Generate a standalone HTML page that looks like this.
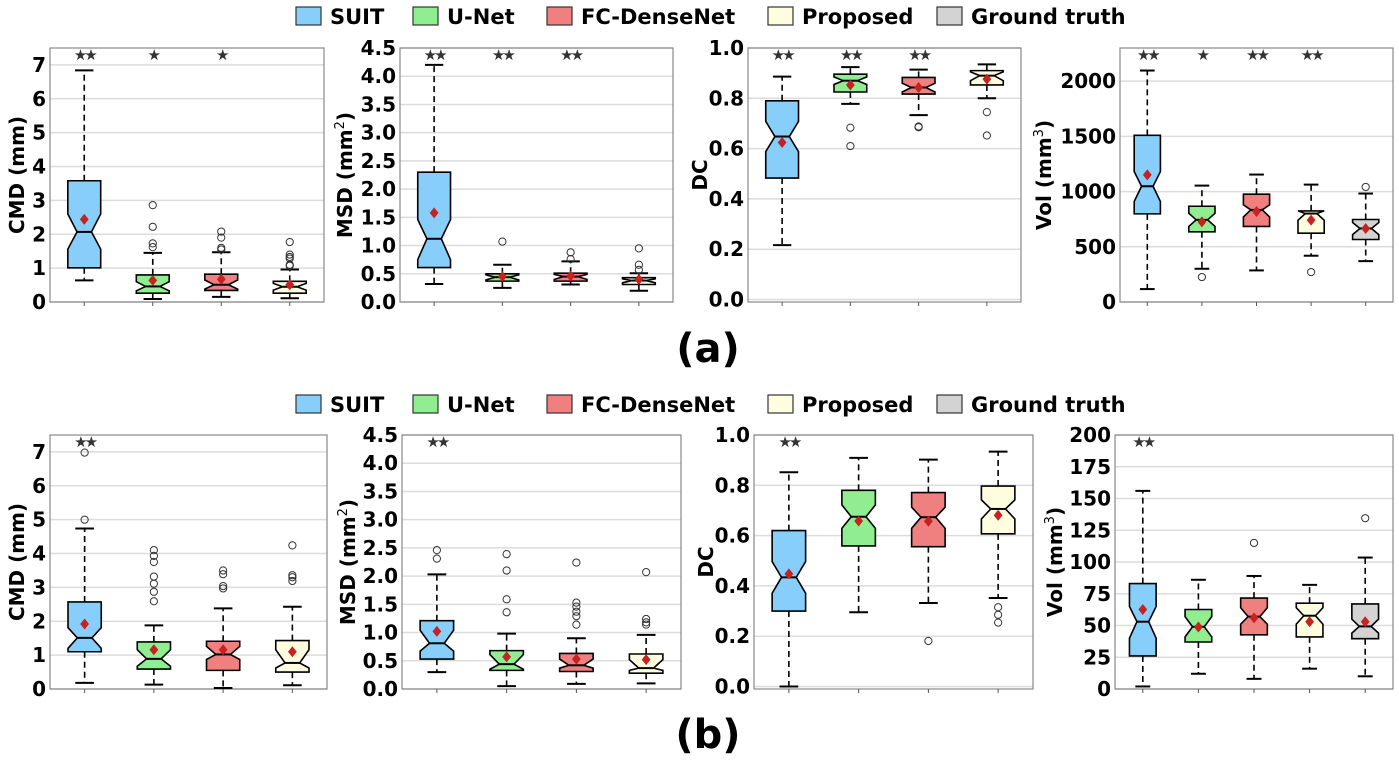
<!DOCTYPE html>
<html><head><meta charset="utf-8"><style>
html,body{margin:0;padding:0;background:#fff;}
svg text{font-family:"DejaVu Sans","Liberation Sans",sans-serif;font-weight:bold;}
</style></head><body>
<svg id="fig" width="1399" height="760" viewBox="0 0 1399 760" xmlns="http://www.w3.org/2000/svg">
<g id="legend-top"></g>
<g id="legend-bottom"></g>
<text x="708" y="362" text-anchor="middle" font-size="40">(a)</text>
<text x="708" y="748" text-anchor="middle" font-size="40">(b)</text>
</svg>
<script>
const seriesNames = ["SUIT","U-Net","FC-DenseNet","Proposed","Ground truth"];
const seriesColors = ["#87CEFA","#90EE90","#F08080","#FFFDE0","#D3D3D3"];

// stats per box: [whiskerLo, q1, notchLo, median, notchHi, q3, whiskerHi, mean]
const aCmdStats = [[0.64,1.01,1.56,2.07,2.6,3.58,6.84,2.44],[0.09,0.26,0.33,0.46,0.6,0.8,1.45,0.64],[0.15,0.34,0.38,0.51,0.65,0.82,1.47,0.67],[0.11,0.26,0.35,0.45,0.55,0.61,0.96,0.51]];
const aCmdOut = [[],[2.86,2.22,1.73,1.62],[2.08,1.9,1.6,1.55],[1.77,1.4,1.33,1.28,1.1,1.07]];
const aCmdStars = ["★★","★","★",""];
const aMsdStats = [[0.32,0.61,0.75,1.12,1.46,2.3,4.2,1.58],[0.25,0.37,0.39,0.44,0.48,0.5,0.66,0.45],[0.31,0.37,0.4,0.45,0.49,0.51,0.72,0.46],[0.2,0.31,0.34,0.38,0.41,0.43,0.51,0.4]];
const aMsdOut = [[],[1.07],[0.88,0.76],[0.95,0.66,0.57]];
const aMsdStars = ["★★","★★","★★",""];
const aDcStats = [[0.216,0.483,0.588,0.648,0.708,0.79,0.886,0.624],[0.778,0.825,0.855,0.87,0.885,0.896,0.924,0.853],[0.733,0.817,0.825,0.843,0.86,0.883,0.914,0.843],[0.8,0.853,0.87,0.89,0.905,0.91,0.935,0.876]];
const aDcOut = [[],[0.683,0.61],[0.688,0.685],[0.745,0.652]];
const aDcStars = ["★★","★★","★★",""];
const aVolStats = [[117,798,910,1048,1181,1509,2096,1151],[301,636,684,744,804,867,1054,726],[286,684,770,834,880,976,1154,819],[419,623,740,801,825,825,1063,741],[370,566,610,666,720,747,982,666]];
const aVolOut = [[],[226],[],[271],[1042]];
const aVolStars = ["★★","★","★★","★★",""];

const bCmdStats = [[0.18,1.1,1.2,1.51,1.81,2.57,4.74,1.92],[0.13,0.59,0.67,0.89,1.16,1.39,1.88,1.16],[0.03,0.55,0.87,1.02,1.26,1.41,2.38,1.16],[0.11,0.5,0.62,0.77,1.16,1.43,2.43,1.1]];
const bCmdOut = [[6.98,5.0],[4.1,3.93,3.75,3.32,3.11,2.87,2.59],[3.5,3.39,3.04,2.97],[4.24,3.36,3.3,3.19]];
const bCmdStars = ["★★","","",""];
const bMsdStats = [[0.3,0.53,0.67,0.81,1.04,1.21,2.03,1.02],[0.05,0.33,0.35,0.44,0.61,0.68,0.98,0.57],[0.09,0.31,0.37,0.42,0.53,0.63,0.9,0.53],[0.1,0.28,0.33,0.37,0.52,0.62,0.96,0.52]];
const bMsdOut = [[2.46,2.31],[2.39,2.1,1.59,1.36],[2.24,1.53,1.46,1.37,1.29,1.14],[2.07,1.24,1.18,1.14]];
const bMsdStars = ["★★","","",""];
const bDcStats = [[0.0,0.3,0.371,0.434,0.497,0.62,0.852,0.448],[0.295,0.559,0.629,0.675,0.722,0.78,0.909,0.658],[0.332,0.556,0.629,0.673,0.713,0.771,0.902,0.657],[0.352,0.607,0.666,0.706,0.742,0.797,0.934,0.681]];
const bDcOut = [[],[],[0.181],[0.315,0.285,0.254]];
const bDcStars = ["★★","","",""];
const bVolStats = [[2,26,40,53,65,83,156,62.6],[12,37,41,49,57,62.6,86,48.8],[8,42.7,51,57,64,71.6,89,56],[16,41,51,57.7,64,67.6,82,53],[10,39.6,44,49.3,55,67,103.5,53]];
const bVolOut = [[],[],[115],[],[134.5]];
const bVolStars = ["★★","","","",""];

const cmdTicks = [0,1,2,3,4,5,6,7];
const msdTicks = ["0.0","0.5","1.0","1.5","2.0","2.5","3.0","3.5","4.0","4.5"];
const dcTicks = ["0.0","0.2","0.4","0.6","0.8","1.0"];
const volTicksA = [0,500,1000,1500,2000];
const volTicksB = [0,25,50,75,100,125,150,175,200];

const NS = "http://www.w3.org/2000/svg";
const svg = document.getElementById("fig");
function mk(tag, attrs, parent){const e=document.createElementNS(NS,tag);for(const k in attrs)e.setAttribute(k,attrs[k]);(parent||svg).appendChild(e);return e;}

function panel(cfg){
  const g = mk("g",{});
  
  
  const {L,R,T,B,ymin,ymax} = cfg;
  const yS = v => B - (v - ymin)/(ymax - ymin)*(B - T);
  const n = cfg.stats.length;
  const xS = i => L + (i + 0.5)/n*(R - L);
  cfg.ticks.forEach(t=>{
    const v = parseFloat(t); const y = yS(v);
    const gl = mk("line",{x1:L,x2:R,y1:y,y2:y,stroke:"#dcdcdc","stroke-width":1.5},g);
    
    
    const tl = mk("text",{x:L-4,y:y+7,"text-anchor":"end","font-size":20},g);
    
    
    tl.textContent = String(t);
  });
  const fr = mk("rect",{x:L,y:T,width:R-L,height:B-T,fill:"none",stroke:"#888","stroke-width":1.2},g);
  
  
  const yt = mk("text",{x:0,y:0,"text-anchor":"middle","font-size":20,transform:`translate(${cfg.titleX},${(T+B)/2}) rotate(-90)`},g);
  
  
  if(cfg.sup){yt.textContent = cfg.title; const ts = mk("tspan",{dy:-8,"font-size":13,"font-weight":"normal"},yt); ts.textContent=cfg.sup; const ts2=mk("tspan",{dy:8},yt); ts2.textContent=")";}
  else yt.textContent = cfg.title;
  const step = (R-L)/n;
  const w = step*0.48;
  cfg.stats.forEach((s,i)=>{
    const [wl,q1,nl,md,nh,q3,wh,mean] = s;
    const cx = xS(i), l = cx-w/2, r = cx+w/2, cl = cx-w*0.22, cr = cx+w*0.22;
    const bg = mk("g",{},g);
    
    
    mk("line",{x1:cx,x2:cx,y1:B,y2:B+4,stroke:"#555","stroke-width":1},bg);
    mk("line",{x1:cx,x2:cx,y1:yS(q3),y2:yS(wh),stroke:"#000","stroke-width":1.6,"stroke-dasharray":"6,4"},bg);
    mk("line",{x1:cx,x2:cx,y1:yS(q1),y2:yS(wl),stroke:"#000","stroke-width":1.6,"stroke-dasharray":"6,4"},bg);
    mk("line",{x1:cx-w*0.28,x2:cx+w*0.28,y1:yS(wh),y2:yS(wh),stroke:"#000","stroke-width":2},bg);
    mk("line",{x1:cx-w*0.28,x2:cx+w*0.28,y1:yS(wl),y2:yS(wl),stroke:"#000","stroke-width":2},bg);
    const pts = [[l,q1],[r,q1],[r,nl],[cr,md],[r,nh],[r,q3],[l,q3],[l,nh],[cl,md],[l,nl]].map(p=>p[0]+","+yS(p[1])).join(" ");
    mk("polygon",{points:pts,fill:seriesColors[i],stroke:"#000","stroke-width":1.6},bg);
    mk("line",{x1:cl,x2:cr,y1:yS(md),y2:yS(md),stroke:"#000","stroke-width":2},bg);
    cfg.out[i].forEach(o=>{
      const c = mk("circle",{cx:cx,cy:yS(o),r:3.6,fill:"none",stroke:"#333","stroke-width":1},bg);
      
      
    });
    const my = yS(mean), d = 5.5;
    const dm = mk("polygon",{points:`${cx},${my-d} ${cx+d*0.8},${my} ${cx},${my+d} ${cx-d*0.8},${my}`,fill:"#C62222"},bg);
    
    
    if(cfg.stars[i]){
      const st = mk("text",{x:cx,y:T+12,"text-anchor":"middle","font-size":15,fill:"#333","letter-spacing":"-3"},bg);
      
      
      st.textContent = cfg.stars[i];
    }
  });
}

const rows = [{T:48,B:302,p:"a"},{T:435,B:689,p:"b"}];
const data = {
  a:{cmd:[aCmdStats,aCmdOut,aCmdStars],msd:[aMsdStats,aMsdOut,aMsdStars],dc:[aDcStats,aDcOut,aDcStars],vol:[aVolStats,aVolOut,aVolStars]},
  b:{cmd:[bCmdStats,bCmdOut,bCmdStars],msd:[bMsdStats,bMsdOut,bMsdStars],dc:[bDcStats,bDcOut,bDcStars],vol:[bVolStats,bVolOut,bVolStars]}
};
rows.forEach((row,ri)=>{
  const d = data[row.p];
  panel({name:"cmd-panel-"+row.p,L:50,R:ri?327:324,T:row.T,B:row.B,ymin:0,ymax:7.5,ticks:cmdTicks,title:"CMD (mm)",titleX:24,stats:d.cmd[0],out:d.cmd[1],stars:d.cmd[2]});
  panel({name:"msd-panel-"+row.p,L:ri?402:400,R:ri?681:673,T:row.T,B:row.B,ymin:0,ymax:4.5,ticks:msdTicks,title:"MSD (mm",sup:"2",titleX:ri?355:352,stats:d.msd[0],out:d.msd[1],stars:d.msd[2]});
  panel({name:"dc-panel-"+row.p,L:ri?754:748,R:ri?1033:1021,T:row.T,B:row.B,ymin:-0.01,ymax:1.0,ticks:dcTicks,title:"DC",titleX:ri?713:707,stats:d.dc[0],out:d.dc[1],stars:d.dc[2]});
  panel({name:"vol-panel-"+row.p,L:ri?1115:1120,R:1393,T:row.T,B:row.B,ymin:0,ymax:ri?200:2300,ticks:ri?volTicksB:volTicksA,title:"Vol (mm",sup:"3",titleX:ri?1062:1051,stats:d.vol[0],out:d.vol[1],stars:d.vol[2]});
});

const legX = [296,413,547,768,937];
[["legend-top",16],["legend-bottom",404]].forEach(([id,cy])=>{
  const lg = document.getElementById(id);
  seriesNames.forEach((nm,i)=>{
    const e = mk("g",{},lg);
    
    
    mk("rect",{x:legX[i],y:cy-9,width:25,height:18,fill:seriesColors[i],stroke:"#333","stroke-width":1.2},e);
    const t = mk("text",{x:legX[i]+34,y:cy+8,"font-size":21},e);
    t.textContent = nm;
  });
});
</script>
</body></html>
